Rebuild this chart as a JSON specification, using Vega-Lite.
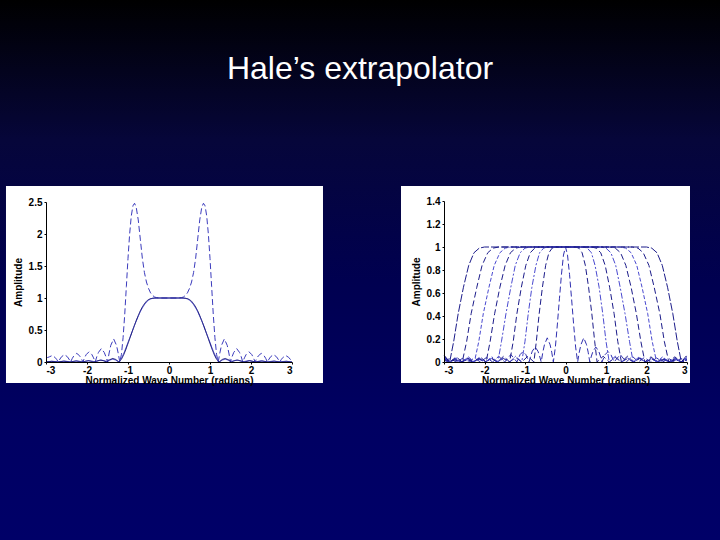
{
"$schema": "https://vega.github.io/schema/vega-lite/v6.json",
"width": 720, "height": 540,
"autosize": {"type": "none"},
"padding": 0,
"background": "#000040",
"config": {
  "view": {"stroke": null},
  "axis": {"grid": false, "domainColor": "#000000", "domainWidth": 1, "tickColor": "#000000", "tickSize": 2, "tickWidth": 1,
    "labelFont": "Liberation Sans", "labelFontWeight": "bold", "labelFontSize": 10, "labelColor": "#000000", "labelPadding": 1,
    "titleFont": "Liberation Sans", "titleFontWeight": "bold", "titleFontSize": 10, "titleColor": "#000000"}
},
"title": {"text": "Hale’s extrapolator", "font": "Liberation Sans", "fontSize": 32, "fontWeight": "normal", "color": "#ffffff", "anchor": "middle", "offset": -86},
"datasets": {
"left": [
{"c":"d","x":0,"y":1},{"c":"d","x":0.2,"y":1},{"c":"d","x":0.3,"y":1.005},{"c":"d","x":0.35,"y":1.015},{"c":"d","x":0.4,"y":1.04},{"c":"d","x":0.45,"y":1.08},{"c":"d","x":0.5,"y":1.15},{"c":"d","x":0.55,"y":1.25},{"c":"d","x":0.6,"y":1.4},{"c":"d","x":0.65,"y":1.62},{"c":"d","x":0.7,"y":1.92},{"c":"d","x":0.75,"y":2.22},{"c":"d","x":0.8,"y":2.42},{"c":"d","x":0.84,"y":2.48},{"c":"d","x":0.88,"y":2.44},{"c":"d","x":0.92,"y":2.28},{"c":"d","x":0.96,"y":2},{"c":"d","x":1,"y":1.62},{"c":"d","x":1.04,"y":1.18},{"c":"d","x":1.08,"y":0.74},{"c":"d","x":1.12,"y":0.38},{"c":"d","x":1.16,"y":0.12},{"c":"d","x":1.2,"y":0},
{"c":"d","x":1.24,"y":0.14},{"c":"d","x":1.28,"y":0.26},{"c":"d","x":1.35,"y":0.36},{"c":"d","x":1.42,"y":0.26},{"c":"d","x":1.46,"y":0.14},{"c":"d","x":1.5,"y":0},
{"c":"d","x":1.54,"y":0.085},{"c":"d","x":1.58,"y":0.15},{"c":"d","x":1.65,"y":0.21},{"c":"d","x":1.72,"y":0.15},{"c":"d","x":1.76,"y":0.085},{"c":"d","x":1.8,"y":0},
{"c":"d","x":1.84,"y":0.065},{"c":"d","x":1.88,"y":0.115},{"c":"d","x":1.95,"y":0.16},{"c":"d","x":2.02,"y":0.115},{"c":"d","x":2.06,"y":0.065},{"c":"d","x":2.1,"y":0},
{"c":"d","x":2.14,"y":0.055},{"c":"d","x":2.18,"y":0.097},{"c":"d","x":2.25,"y":0.135},{"c":"d","x":2.32,"y":0.097},{"c":"d","x":2.36,"y":0.055},{"c":"d","x":2.4,"y":0},
{"c":"d","x":2.44,"y":0.046},{"c":"d","x":2.48,"y":0.083},{"c":"d","x":2.55,"y":0.115},{"c":"d","x":2.62,"y":0.083},{"c":"d","x":2.66,"y":0.046},{"c":"d","x":2.7,"y":0},
{"c":"d","x":2.74,"y":0.04},{"c":"d","x":2.78,"y":0.072},{"c":"d","x":2.85,"y":0.1},{"c":"d","x":2.92,"y":0.072},{"c":"d","x":2.96,"y":0.04},{"c":"d","x":3,"y":0.03},
{"c":"d","x":-0.2,"y":1},{"c":"d","x":-0.3,"y":1.005},{"c":"d","x":-0.35,"y":1.015},{"c":"d","x":-0.4,"y":1.04},{"c":"d","x":-0.45,"y":1.08},{"c":"d","x":-0.5,"y":1.15},{"c":"d","x":-0.55,"y":1.25},{"c":"d","x":-0.6,"y":1.4},{"c":"d","x":-0.65,"y":1.62},{"c":"d","x":-0.7,"y":1.92},{"c":"d","x":-0.75,"y":2.22},{"c":"d","x":-0.8,"y":2.42},{"c":"d","x":-0.84,"y":2.48},{"c":"d","x":-0.88,"y":2.44},{"c":"d","x":-0.92,"y":2.28},{"c":"d","x":-0.96,"y":2},{"c":"d","x":-1,"y":1.62},{"c":"d","x":-1.04,"y":1.18},{"c":"d","x":-1.08,"y":0.74},{"c":"d","x":-1.12,"y":0.38},{"c":"d","x":-1.16,"y":0.12},{"c":"d","x":-1.2,"y":0},
{"c":"d","x":-1.24,"y":0.14},{"c":"d","x":-1.28,"y":0.26},{"c":"d","x":-1.35,"y":0.36},{"c":"d","x":-1.42,"y":0.26},{"c":"d","x":-1.46,"y":0.14},{"c":"d","x":-1.5,"y":0},
{"c":"d","x":-1.54,"y":0.085},{"c":"d","x":-1.58,"y":0.15},{"c":"d","x":-1.65,"y":0.21},{"c":"d","x":-1.72,"y":0.15},{"c":"d","x":-1.76,"y":0.085},{"c":"d","x":-1.8,"y":0},
{"c":"d","x":-1.84,"y":0.065},{"c":"d","x":-1.88,"y":0.115},{"c":"d","x":-1.95,"y":0.16},{"c":"d","x":-2.02,"y":0.115},{"c":"d","x":-2.06,"y":0.065},{"c":"d","x":-2.1,"y":0},
{"c":"d","x":-2.14,"y":0.055},{"c":"d","x":-2.18,"y":0.097},{"c":"d","x":-2.25,"y":0.135},{"c":"d","x":-2.32,"y":0.097},{"c":"d","x":-2.36,"y":0.055},{"c":"d","x":-2.4,"y":0},
{"c":"d","x":-2.44,"y":0.046},{"c":"d","x":-2.48,"y":0.083},{"c":"d","x":-2.55,"y":0.115},{"c":"d","x":-2.62,"y":0.083},{"c":"d","x":-2.66,"y":0.046},{"c":"d","x":-2.7,"y":0},
{"c":"d","x":-2.74,"y":0.04},{"c":"d","x":-2.78,"y":0.072},{"c":"d","x":-2.85,"y":0.1},{"c":"d","x":-2.92,"y":0.08},{"c":"d","x":-2.96,"y":0.07},{"c":"d","x":-3,"y":0.08},
{"c":"s1","x":0,"y":1},{"c":"s1","x":0.3,"y":1},{"c":"s1","x":0.4,"y":0.995},{"c":"s1","x":0.45,"y":0.985},{"c":"s1","x":0.5,"y":0.965},{"c":"s1","x":0.55,"y":0.935},{"c":"s1","x":0.6,"y":0.895},{"c":"s1","x":0.65,"y":0.845},{"c":"s1","x":0.7,"y":0.785},{"c":"s1","x":0.75,"y":0.715},{"c":"s1","x":0.8,"y":0.64},{"c":"s1","x":0.85,"y":0.56},{"c":"s1","x":0.9,"y":0.475},{"c":"s1","x":0.95,"y":0.39},{"c":"s1","x":1,"y":0.305},{"c":"s1","x":1.05,"y":0.22},{"c":"s1","x":1.1,"y":0.14},{"c":"s1","x":1.15,"y":0.07},{"c":"s1","x":1.2,"y":0.02},{"c":"s1","x":1.23,"y":0},{"c":"s1","x":1.3,"y":0.03},{"c":"s1","x":1.37,"y":0.045},{"c":"s1","x":1.44,"y":0.03},{"c":"s1","x":1.5,"y":0.005},{"c":"s1","x":1.58,"y":0.02},{"c":"s1","x":1.65,"y":0.03},{"c":"s1","x":1.72,"y":0.02},{"c":"s1","x":1.8,"y":0.003},{"c":"s1","x":1.95,"y":0.022},{"c":"s1","x":2.1,"y":0.002},{"c":"s1","x":2.25,"y":0.018},{"c":"s1","x":2.4,"y":0.002},{"c":"s1","x":2.55,"y":0.015},{"c":"s1","x":2.7,"y":0.002},{"c":"s1","x":2.85,"y":0.012},{"c":"s1","x":3,"y":0.002},
{"c":"s1","x":-0.3,"y":1},{"c":"s1","x":-0.4,"y":0.995},{"c":"s1","x":-0.45,"y":0.985},{"c":"s1","x":-0.5,"y":0.965},{"c":"s1","x":-0.55,"y":0.935},{"c":"s1","x":-0.6,"y":0.895},{"c":"s1","x":-0.65,"y":0.845},{"c":"s1","x":-0.7,"y":0.785},{"c":"s1","x":-0.75,"y":0.715},{"c":"s1","x":-0.8,"y":0.64},{"c":"s1","x":-0.85,"y":0.56},{"c":"s1","x":-0.9,"y":0.475},{"c":"s1","x":-0.95,"y":0.39},{"c":"s1","x":-1,"y":0.305},{"c":"s1","x":-1.05,"y":0.22},{"c":"s1","x":-1.1,"y":0.14},{"c":"s1","x":-1.15,"y":0.07},{"c":"s1","x":-1.2,"y":0.02},{"c":"s1","x":-1.23,"y":0},{"c":"s1","x":-1.3,"y":0.03},{"c":"s1","x":-1.37,"y":0.045},{"c":"s1","x":-1.44,"y":0.03},{"c":"s1","x":-1.5,"y":0.005},{"c":"s1","x":-1.58,"y":0.02},{"c":"s1","x":-1.65,"y":0.03},{"c":"s1","x":-1.72,"y":0.02},{"c":"s1","x":-1.8,"y":0.003},{"c":"s1","x":-1.95,"y":0.022},{"c":"s1","x":-2.1,"y":0.002},{"c":"s1","x":-2.25,"y":0.018},{"c":"s1","x":-2.4,"y":0.002},{"c":"s1","x":-2.55,"y":0.015},{"c":"s1","x":-2.7,"y":0.002},{"c":"s1","x":-2.85,"y":0.012},{"c":"s1","x":-3,"y":0.002},
{"c":"s2","x":0,"y":1},{"c":"s2","x":0.35,"y":1},{"c":"s2","x":0.45,"y":0.99},{"c":"s2","x":0.5,"y":0.975},{"c":"s2","x":0.55,"y":0.95},{"c":"s2","x":0.6,"y":0.91},{"c":"s2","x":0.65,"y":0.86},{"c":"s2","x":0.7,"y":0.8},{"c":"s2","x":0.75,"y":0.725},{"c":"s2","x":0.8,"y":0.645},{"c":"s2","x":0.85,"y":0.56},{"c":"s2","x":0.9,"y":0.47},{"c":"s2","x":0.95,"y":0.38},{"c":"s2","x":1,"y":0.29},{"c":"s2","x":1.05,"y":0.2},{"c":"s2","x":1.1,"y":0.12},{"c":"s2","x":1.15,"y":0.055},{"c":"s2","x":1.19,"y":0.02},{"c":"s2","x":1.22,"y":0},{"c":"s2","x":1.3,"y":0.04},{"c":"s2","x":1.37,"y":0.055},{"c":"s2","x":1.45,"y":0.035},{"c":"s2","x":1.52,"y":0},{"c":"s2","x":1.6,"y":0.02},{"c":"s2","x":1.68,"y":0.03},{"c":"s2","x":1.76,"y":0.015},{"c":"s2","x":1.83,"y":0},{"c":"s2","x":1.97,"y":0.02},{"c":"s2","x":2.12,"y":0},{"c":"s2","x":2.27,"y":0.015},{"c":"s2","x":2.42,"y":0},{"c":"s2","x":2.57,"y":0.012},{"c":"s2","x":2.72,"y":0},{"c":"s2","x":2.87,"y":0.01},{"c":"s2","x":3,"y":0},
{"c":"s2","x":-0.35,"y":1},{"c":"s2","x":-0.45,"y":0.99},{"c":"s2","x":-0.5,"y":0.975},{"c":"s2","x":-0.55,"y":0.95},{"c":"s2","x":-0.6,"y":0.91},{"c":"s2","x":-0.65,"y":0.86},{"c":"s2","x":-0.7,"y":0.8},{"c":"s2","x":-0.75,"y":0.725},{"c":"s2","x":-0.8,"y":0.645},{"c":"s2","x":-0.85,"y":0.56},{"c":"s2","x":-0.9,"y":0.47},{"c":"s2","x":-0.95,"y":0.38},{"c":"s2","x":-1,"y":0.29},{"c":"s2","x":-1.05,"y":0.2},{"c":"s2","x":-1.1,"y":0.12},{"c":"s2","x":-1.15,"y":0.055},{"c":"s2","x":-1.19,"y":0.02},{"c":"s2","x":-1.22,"y":0},{"c":"s2","x":-1.3,"y":0.04},{"c":"s2","x":-1.37,"y":0.055},{"c":"s2","x":-1.45,"y":0.035},{"c":"s2","x":-1.52,"y":0},{"c":"s2","x":-1.6,"y":0.02},{"c":"s2","x":-1.68,"y":0.03},{"c":"s2","x":-1.76,"y":0.015},{"c":"s2","x":-1.83,"y":0},{"c":"s2","x":-1.97,"y":0.02},{"c":"s2","x":-2.12,"y":0},{"c":"s2","x":-2.27,"y":0.015},{"c":"s2","x":-2.42,"y":0},{"c":"s2","x":-2.57,"y":0.012},{"c":"s2","x":-2.72,"y":0},{"c":"s2","x":-2.87,"y":0.01},{"c":"s2","x":-3,"y":0}
],
"right": [
{"c":"r1","x":0,"y":1},{"c":"r1","x":0.05,"y":0.93},{"c":"r1","x":0.1,"y":0.76},{"c":"r1","x":0.15,"y":0.55},{"c":"r1","x":0.2,"y":0.33},{"c":"r1","x":0.25,"y":0.13},{"c":"r1","x":0.3,"y":0},
{"c":"r1","x":0.34,"y":0.085},{"c":"r1","x":0.38,"y":0.15},{"c":"r1","x":0.45,"y":0.21},{"c":"r1","x":0.52,"y":0.15},{"c":"r1","x":0.56,"y":0.085},{"c":"r1","x":0.6,"y":0},
{"c":"r1","x":0.64,"y":0.052},{"c":"r1","x":0.68,"y":0.094},{"c":"r1","x":0.75,"y":0.13},{"c":"r1","x":0.82,"y":0.094},{"c":"r1","x":0.86,"y":0.052},{"c":"r1","x":0.9,"y":0},
{"c":"r1","x":0.98,"y":0.065},{"c":"r1","x":1.05,"y":0.09},{"c":"r1","x":1.12,"y":0.065},{"c":"r1","x":1.2,"y":0},
{"c":"r1","x":1.35,"y":0.065},{"c":"r1","x":1.5,"y":0},{"c":"r1","x":1.65,"y":0.05},{"c":"r1","x":1.8,"y":0},{"c":"r1","x":1.95,"y":0.04},{"c":"r1","x":2.1,"y":0},{"c":"r1","x":2.25,"y":0.035},{"c":"r1","x":2.4,"y":0},{"c":"r1","x":2.55,"y":0.03},{"c":"r1","x":2.7,"y":0},{"c":"r1","x":2.85,"y":0.03},{"c":"r1","x":3,"y":0.01},
{"c":"r1","x":-0.05,"y":0.93},{"c":"r1","x":-0.1,"y":0.76},{"c":"r1","x":-0.15,"y":0.55},{"c":"r1","x":-0.2,"y":0.33},{"c":"r1","x":-0.25,"y":0.13},{"c":"r1","x":-0.3,"y":0},
{"c":"r1","x":-0.34,"y":0.085},{"c":"r1","x":-0.38,"y":0.15},{"c":"r1","x":-0.45,"y":0.21},{"c":"r1","x":-0.52,"y":0.15},{"c":"r1","x":-0.56,"y":0.085},{"c":"r1","x":-0.6,"y":0},
{"c":"r1","x":-0.64,"y":0.052},{"c":"r1","x":-0.68,"y":0.094},{"c":"r1","x":-0.75,"y":0.13},{"c":"r1","x":-0.82,"y":0.094},{"c":"r1","x":-0.86,"y":0.052},{"c":"r1","x":-0.9,"y":0},
{"c":"r1","x":-0.98,"y":0.065},{"c":"r1","x":-1.05,"y":0.09},{"c":"r1","x":-1.12,"y":0.065},{"c":"r1","x":-1.2,"y":0},
{"c":"r1","x":-1.35,"y":0.065},{"c":"r1","x":-1.5,"y":0},{"c":"r1","x":-1.65,"y":0.05},{"c":"r1","x":-1.8,"y":0},{"c":"r1","x":-1.95,"y":0.04},{"c":"r1","x":-2.1,"y":0},{"c":"r1","x":-2.25,"y":0.035},{"c":"r1","x":-2.4,"y":0},{"c":"r1","x":-2.55,"y":0.03},{"c":"r1","x":-2.7,"y":0},{"c":"r1","x":-2.85,"y":0.03},{"c":"r1","x":-3,"y":0.01},
{"c":"r2","x":0.25,"y":1},{"c":"r2","x":0.33,"y":0.99},{"c":"r2","x":0.41,"y":0.95},{"c":"r2","x":0.49,"y":0.84},{"c":"r2","x":0.57,"y":0.65},{"c":"r2","x":0.65,"y":0.42},{"c":"r2","x":0.72,"y":0.18},{"c":"r2","x":0.78,"y":0},{"c":"r2","x":0.93,"y":0.05},{"c":"r2","x":1.08,"y":0},{"c":"r2","x":1.23,"y":0.04},{"c":"r2","x":1.38,"y":0},{"c":"r2","x":1.53,"y":0.03},{"c":"r2","x":1.68,"y":0},{"c":"r2","x":1.83,"y":0.03},{"c":"r2","x":1.98,"y":0},{"c":"r2","x":2.13,"y":0.025},{"c":"r2","x":2.28,"y":0},{"c":"r2","x":2.43,"y":0.02},{"c":"r2","x":2.58,"y":0},{"c":"r2","x":2.73,"y":0.02},{"c":"r2","x":2.88,"y":0},{"c":"r2","x":3,"y":0.015},
{"c":"r2","x":-0.25,"y":1},{"c":"r2","x":-0.33,"y":0.99},{"c":"r2","x":-0.41,"y":0.95},{"c":"r2","x":-0.49,"y":0.84},{"c":"r2","x":-0.57,"y":0.65},{"c":"r2","x":-0.65,"y":0.42},{"c":"r2","x":-0.72,"y":0.18},{"c":"r2","x":-0.78,"y":0},{"c":"r2","x":-0.93,"y":0.05},{"c":"r2","x":-1.08,"y":0},{"c":"r2","x":-1.23,"y":0.04},{"c":"r2","x":-1.38,"y":0},{"c":"r2","x":-1.53,"y":0.03},{"c":"r2","x":-1.68,"y":0},{"c":"r2","x":-1.83,"y":0.03},{"c":"r2","x":-1.98,"y":0},{"c":"r2","x":-2.13,"y":0.025},{"c":"r2","x":-2.28,"y":0},{"c":"r2","x":-2.43,"y":0.02},{"c":"r2","x":-2.58,"y":0},{"c":"r2","x":-2.73,"y":0.02},{"c":"r2","x":-2.88,"y":0},{"c":"r2","x":-3,"y":0.015},
{"c":"r3","x":0.45,"y":1},{"c":"r3","x":0.54,"y":0.99},{"c":"r3","x":0.64,"y":0.95},{"c":"r3","x":0.73,"y":0.84},{"c":"r3","x":0.83,"y":0.65},{"c":"r3","x":0.92,"y":0.42},{"c":"r3","x":1,"y":0.18},{"c":"r3","x":1.08,"y":0},{"c":"r3","x":1.23,"y":0.05},{"c":"r3","x":1.38,"y":0},{"c":"r3","x":1.53,"y":0.035},{"c":"r3","x":1.68,"y":0},{"c":"r3","x":1.83,"y":0.03},{"c":"r3","x":1.98,"y":0},{"c":"r3","x":2.13,"y":0.025},{"c":"r3","x":2.28,"y":0},{"c":"r3","x":2.43,"y":0.02},{"c":"r3","x":2.58,"y":0},{"c":"r3","x":2.73,"y":0.02},{"c":"r3","x":2.88,"y":0},{"c":"r3","x":3,"y":0.02},
{"c":"r3","x":-0.45,"y":1},{"c":"r3","x":-0.54,"y":0.99},{"c":"r3","x":-0.64,"y":0.95},{"c":"r3","x":-0.73,"y":0.84},{"c":"r3","x":-0.83,"y":0.65},{"c":"r3","x":-0.92,"y":0.42},{"c":"r3","x":-1,"y":0.18},{"c":"r3","x":-1.08,"y":0},{"c":"r3","x":-1.23,"y":0.05},{"c":"r3","x":-1.38,"y":0},{"c":"r3","x":-1.53,"y":0.035},{"c":"r3","x":-1.68,"y":0},{"c":"r3","x":-1.83,"y":0.03},{"c":"r3","x":-1.98,"y":0},{"c":"r3","x":-2.13,"y":0.025},{"c":"r3","x":-2.28,"y":0},{"c":"r3","x":-2.43,"y":0.02},{"c":"r3","x":-2.58,"y":0},{"c":"r3","x":-2.73,"y":0.02},{"c":"r3","x":-2.88,"y":0},{"c":"r3","x":-3,"y":0.02},
{"c":"r4","x":0.65,"y":1},{"c":"r4","x":0.76,"y":0.99},{"c":"r4","x":0.87,"y":0.95},{"c":"r4","x":0.98,"y":0.84},{"c":"r4","x":1.09,"y":0.65},{"c":"r4","x":1.2,"y":0.42},{"c":"r4","x":1.29,"y":0.18},{"c":"r4","x":1.38,"y":0},{"c":"r4","x":1.53,"y":0.05},{"c":"r4","x":1.68,"y":0},{"c":"r4","x":1.83,"y":0.035},{"c":"r4","x":1.98,"y":0},{"c":"r4","x":2.13,"y":0.03},{"c":"r4","x":2.28,"y":0},{"c":"r4","x":2.43,"y":0.025},{"c":"r4","x":2.58,"y":0},{"c":"r4","x":2.73,"y":0.02},{"c":"r4","x":2.88,"y":0},{"c":"r4","x":3,"y":0.025},
{"c":"r4","x":-0.65,"y":1},{"c":"r4","x":-0.76,"y":0.99},{"c":"r4","x":-0.87,"y":0.95},{"c":"r4","x":-0.98,"y":0.84},{"c":"r4","x":-1.09,"y":0.65},{"c":"r4","x":-1.2,"y":0.42},{"c":"r4","x":-1.29,"y":0.18},{"c":"r4","x":-1.38,"y":0},{"c":"r4","x":-1.53,"y":0.05},{"c":"r4","x":-1.68,"y":0},{"c":"r4","x":-1.83,"y":0.035},{"c":"r4","x":-1.98,"y":0},{"c":"r4","x":-2.13,"y":0.03},{"c":"r4","x":-2.28,"y":0},{"c":"r4","x":-2.43,"y":0.025},{"c":"r4","x":-2.58,"y":0},{"c":"r4","x":-2.73,"y":0.02},{"c":"r4","x":-2.88,"y":0},{"c":"r4","x":-3,"y":0.025},
{"c":"r5","x":0.88,"y":1},{"c":"r5","x":1,"y":0.99},{"c":"r5","x":1.12,"y":0.95},{"c":"r5","x":1.24,"y":0.84},{"c":"r5","x":1.35,"y":0.65},{"c":"r5","x":1.47,"y":0.42},{"c":"r5","x":1.58,"y":0.18},{"c":"r5","x":1.67,"y":0},{"c":"r5","x":1.82,"y":0.045},{"c":"r5","x":1.97,"y":0},{"c":"r5","x":2.12,"y":0.035},{"c":"r5","x":2.27,"y":0},{"c":"r5","x":2.42,"y":0.03},{"c":"r5","x":2.57,"y":0},{"c":"r5","x":2.72,"y":0.025},{"c":"r5","x":2.87,"y":0},{"c":"r5","x":3,"y":0.03},
{"c":"r5","x":-0.88,"y":1},{"c":"r5","x":-1,"y":0.99},{"c":"r5","x":-1.12,"y":0.95},{"c":"r5","x":-1.24,"y":0.84},{"c":"r5","x":-1.35,"y":0.65},{"c":"r5","x":-1.47,"y":0.42},{"c":"r5","x":-1.58,"y":0.18},{"c":"r5","x":-1.67,"y":0},{"c":"r5","x":-1.82,"y":0.045},{"c":"r5","x":-1.97,"y":0},{"c":"r5","x":-2.12,"y":0.035},{"c":"r5","x":-2.27,"y":0},{"c":"r5","x":-2.42,"y":0.03},{"c":"r5","x":-2.57,"y":0},{"c":"r5","x":-2.72,"y":0.025},{"c":"r5","x":-2.87,"y":0},{"c":"r5","x":-3,"y":0.03},
{"c":"r6","x":1.1,"y":1},{"c":"r6","x":1.23,"y":0.99},{"c":"r6","x":1.36,"y":0.95},{"c":"r6","x":1.49,"y":0.84},{"c":"r6","x":1.62,"y":0.65},{"c":"r6","x":1.75,"y":0.42},{"c":"r6","x":1.86,"y":0.18},{"c":"r6","x":1.96,"y":0},{"c":"r6","x":2.11,"y":0.045},{"c":"r6","x":2.26,"y":0},{"c":"r6","x":2.41,"y":0.035},{"c":"r6","x":2.56,"y":0},{"c":"r6","x":2.71,"y":0.03},{"c":"r6","x":2.86,"y":0},{"c":"r6","x":3,"y":0.035},
{"c":"r6","x":-1.1,"y":1},{"c":"r6","x":-1.23,"y":0.99},{"c":"r6","x":-1.36,"y":0.95},{"c":"r6","x":-1.49,"y":0.84},{"c":"r6","x":-1.62,"y":0.65},{"c":"r6","x":-1.75,"y":0.42},{"c":"r6","x":-1.86,"y":0.18},{"c":"r6","x":-1.96,"y":0},{"c":"r6","x":-2.11,"y":0.045},{"c":"r6","x":-2.26,"y":0},{"c":"r6","x":-2.41,"y":0.035},{"c":"r6","x":-2.56,"y":0},{"c":"r6","x":-2.71,"y":0.03},{"c":"r6","x":-2.86,"y":0},{"c":"r6","x":-3,"y":0.035},
{"c":"r7","x":1.35,"y":1},{"c":"r7","x":1.49,"y":0.99},{"c":"r7","x":1.62,"y":0.95},{"c":"r7","x":1.76,"y":0.84},{"c":"r7","x":1.89,"y":0.65},{"c":"r7","x":2.03,"y":0.42},{"c":"r7","x":2.14,"y":0.18},{"c":"r7","x":2.25,"y":0},{"c":"r7","x":2.4,"y":0.045},{"c":"r7","x":2.55,"y":0},{"c":"r7","x":2.7,"y":0.035},{"c":"r7","x":2.85,"y":0},{"c":"r7","x":3,"y":0.04},
{"c":"r7","x":-1.35,"y":1},{"c":"r7","x":-1.49,"y":0.99},{"c":"r7","x":-1.62,"y":0.95},{"c":"r7","x":-1.76,"y":0.84},{"c":"r7","x":-1.89,"y":0.65},{"c":"r7","x":-2.03,"y":0.42},{"c":"r7","x":-2.14,"y":0.18},{"c":"r7","x":-2.25,"y":0},{"c":"r7","x":-2.4,"y":0.045},{"c":"r7","x":-2.55,"y":0},{"c":"r7","x":-2.7,"y":0.035},{"c":"r7","x":-2.85,"y":0},{"c":"r7","x":-3,"y":0.04},
{"c":"r8","x":1.65,"y":1},{"c":"r8","x":1.79,"y":0.99},{"c":"r8","x":1.92,"y":0.95},{"c":"r8","x":2.06,"y":0.84},{"c":"r8","x":2.19,"y":0.65},{"c":"r8","x":2.33,"y":0.42},{"c":"r8","x":2.44,"y":0.18},{"c":"r8","x":2.55,"y":0},{"c":"r8","x":2.7,"y":0.045},{"c":"r8","x":2.85,"y":0},{"c":"r8","x":3,"y":0.05},
{"c":"r8","x":-1.65,"y":1},{"c":"r8","x":-1.79,"y":0.99},{"c":"r8","x":-1.92,"y":0.95},{"c":"r8","x":-2.06,"y":0.84},{"c":"r8","x":-2.19,"y":0.65},{"c":"r8","x":-2.33,"y":0.42},{"c":"r8","x":-2.44,"y":0.18},{"c":"r8","x":-2.55,"y":0},{"c":"r8","x":-2.7,"y":0.045},{"c":"r8","x":-2.85,"y":0},{"c":"r8","x":-3,"y":0.05},
{"c":"r9","x":2,"y":1},{"c":"r9","x":2.13,"y":0.99},{"c":"r9","x":2.26,"y":0.95},{"c":"r9","x":2.39,"y":0.84},{"c":"r9","x":2.52,"y":0.65},{"c":"r9","x":2.65,"y":0.42},{"c":"r9","x":2.76,"y":0.18},{"c":"r9","x":2.86,"y":0},{"c":"r9","x":3,"y":0.06},
{"c":"r9","x":-2,"y":1},{"c":"r9","x":-2.13,"y":0.99},{"c":"r9","x":-2.26,"y":0.95},{"c":"r9","x":-2.39,"y":0.84},{"c":"r9","x":-2.52,"y":0.65},{"c":"r9","x":-2.65,"y":0.42},{"c":"r9","x":-2.76,"y":0.18},{"c":"r9","x":-2.86,"y":0},{"c":"r9","x":-3,"y":0.06}
]
},
"layer": [
  {
    "data": {"values": [{}]},
    "mark": {"type": "rect", "color": {"gradient": "linear", "x1": 0, "y1": 0, "x2": 0, "y2": 1,
      "stops": [{"offset": 0, "color": "#000000"}, {"offset": 0.26, "color": "#06063a"}, {"offset": 0.52, "color": "#000050"}, {"offset": 0.78, "color": "#000062"}, {"offset": 1, "color": "#000068"}]}},
    "encoding": {}
  },
  {
    "data": {"values": [{}]},
    "mark": {"type": "rect", "color": "#ffffff"},
    "encoding": {
      "x": {"datum": -3.976, "type": "quantitative", "scale": {"domain": [-3, 3], "range": [46, 292], "nice": false, "zero": false}, "axis": null},
      "x2": {"datum": 3.756},
      "y": {"datum": -0.328, "type": "quantitative", "scale": {"domain": [0, 2.5], "range": [362, 202], "nice": false, "zero": false}, "axis": null},
      "y2": {"datum": 2.75}
    }
  },
  {
    "data": {"values": [{}]},
    "mark": {"type": "rect", "color": "#ffffff"},
    "encoding": {
      "x": {"datum": -4.062, "type": "quantitative", "scale": {"domain": [-3, 3], "range": [444, 687], "nice": false, "zero": false}, "axis": null},
      "x2": {"datum": 3.074},
      "y": {"datum": -0.183, "type": "quantitative", "scale": {"domain": [0, 1.4], "range": [362, 201], "nice": false, "zero": false}, "axis": null},
      "y2": {"datum": 1.53}
    }
  },
  {
    "data": {"name": "left"},
    "mark": {"type": "line", "strokeWidth": 1},
    "encoding": {
      "x": {"field": "x", "type": "quantitative", "scale": {"domain": [-3, 3], "range": [46, 292], "nice": false, "zero": false},
        "axis": {"orient": "bottom", "offset": -178, "zindex": 2, "values": [-3, -2, -1, 0, 1, 2, 3], "labelExpr": "replace(datum.label, '−', '-')", "title": "Normalized Wave Number (radians)", "titlePadding": 0}},
      "y": {"field": "y", "type": "quantitative", "scale": {"domain": [0, 2.5], "range": [362, 202], "nice": false, "zero": false},
        "axis": {"orient": "left", "offset": -46, "zindex": 2, "values": [0, 0.5, 1, 1.5, 2, 2.5], "format": "~g", "title": "Amplitude", "titlePadding": 5, "labelPadding": 2}},
      "color": {"field": "c", "type": "nominal", "scale": {"domain": ["s1", "s2", "d"], "range": ["#4a4ad6", "#1a1a78", "#3b3bbd"]}, "legend": null},
      "strokeDash": {"field": "c", "type": "nominal", "scale": {"domain": ["s1", "s2", "d"], "range": [[1, 0], [1, 0], [6, 3]]}, "legend": null}
    }
  },
  {
    "data": {"name": "right"},
    "mark": {"type": "line", "strokeWidth": 1},
    "encoding": {
      "x": {"field": "x", "type": "quantitative", "scale": {"domain": [-3, 3], "range": [444, 687], "nice": false, "zero": false},
        "axis": {"orient": "bottom", "offset": -178, "zindex": 2, "values": [-3, -2, -1, 0, 1, 2, 3], "labelExpr": "replace(datum.label, '−', '-')", "title": "Normalized Wave Number (radians)", "titlePadding": 0}},
      "y": {"field": "y", "type": "quantitative", "scale": {"domain": [0, 1.4], "range": [362, 201], "nice": false, "zero": false},
        "axis": {"orient": "left", "offset": -444, "zindex": 2, "values": [0, 0.2, 0.4, 0.6, 0.8, 1, 1.2, 1.4], "format": "~g", "title": "Amplitude", "titlePadding": 5, "labelPadding": 2}},
      "color": {"field": "c", "type": "nominal", "scale": {"domain": ["r1", "r2", "r3", "r4", "r5", "r6", "r7", "r8", "r9"], "range": ["#3030b0", "#1c1c8a", "#4a4ad0", "#1c1c8a", "#4a4ad0", "#1c1c8a", "#4a4ad0", "#1c1c8a", "#1c1c8a"]}, "legend": null},
      "strokeDash": {"field": "c", "type": "nominal", "scale": {"domain": ["r1", "r2", "r3", "r4", "r5", "r6", "r7", "r8", "r9"], "range": [[6, 3], [6, 3], [6, 2, 2, 2], [6, 3], [6, 2, 2, 2], [6, 3], [4, 2], [6, 3], [8, 2]]}, "legend": null}
    }
  }
],
"resolve": {"scale": {"x": "independent", "y": "independent", "color": "independent", "strokeDash": "independent"}, "axis": {"x": "independent", "y": "independent"}}
}
